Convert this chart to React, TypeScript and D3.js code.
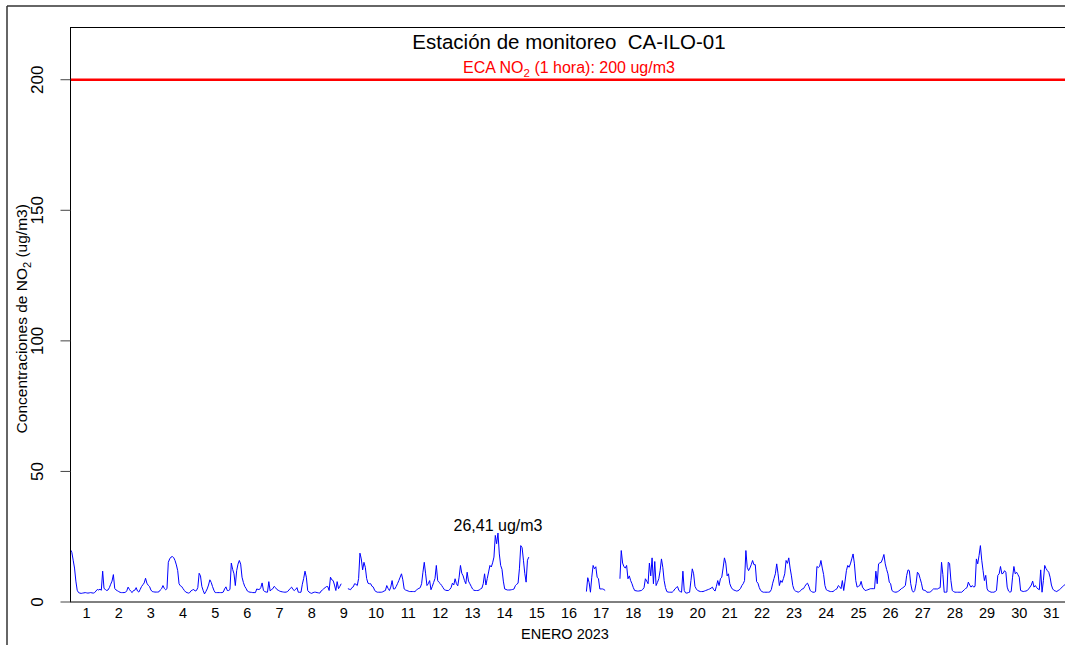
import React, { useEffect, useRef } from 'react';
import * as d3 from 'd3';

// hourly NO2 (ug/m3), one array per day of January 2023, null = no data
const d01 = [20, 19, 16, 13, 8, 4.5, 3.6, 3.4, 3.3, 3.4, 3.5, 3.6, 3.5, 3.4, 3.5, 3.6, 3.5, 3.4, 3.6, 4.2, 4.8, 4.6, 4.9, 4.5];
const d02 = [11.8, 5.2, 4.8, 4.4, 4.6, 5.5, 6.8, 8, 10.5, 5.2, 4.6, 4.3, 4, 3.7, 3.6, 3.6, 3.6, 3.7, 4.3, 5.7, 4.8, 4.1, 3.6, 4.4];
const d03 = [4.5, 5.5, 4.2, 3.8, 4.8, 5.9, 6.6, 7.3, 9.1, 7.2, 6.4, 5.9, 4.6, 4, 3.9, 3.8, 3.8, 3.8, 3.9, 4.6, 5.1, 6.3, 5.2, 4.7];
const d04 = [5.1, 15.2, 16.5, 17.2, 17.4, 17, 15.9, 14.2, 12, 7, 6.2, 5.9, 5.1, 4.4, 3.8, 3.6, 3.4, 3.6, 4.3, 4.6, 4.8, 4.2, 4.4, 5.5];
const d05 = [11, 10, 6, 4.4, 3.1, 4, 5, 6.5, 8.5, 7.5, 5.9, 4.5, 3.6, 3.6, 3.6, 3.6, 3.6, 3.6, 3.8, 5, 5.8, 4.4, 4.4, 4.8];
const d06 = [14.9, 12.5, 10.8, 6.3, 12, 14.5, 15.9, 14.5, 9.5, 7.5, 6, 5.2, 4.2, 3.9, 3.75, 3.7, 3.6, 3.6, 3.6, 5, 4.8, 4.8, 5.5, 7.3];
const d07 = [4.4, 4.0, 3.8, 3.75, 7.8, 4.2, 4.8, 5.1, 6, 5.5, 4.8, 4.5, 4.2, 4, 3.9, 3.8, 3.75, 3.8, 4, 4.6, 5.2, 5.7, 4.8, 4.4];
const d08 = [4.8, 5.5, 3.75, 3.7, 3.75, 6.8, 9, 11.8, 9.5, 4.4, 3.8, 3.5, 3.3, 3.6, 3.75, 3.75, 3.6, 3.5, 3.4, 4.2, 4.6, 5.1, 5.5, 5.9];
const d09 = [5.9, 4.4, 9.5, 8.5, 8.2, 6.5, 4.4, 7.8, 5.1, 6, 7, null, null, null, null, 5.1, 4.9, 4.7, 5.5, 5.8, 7, 6.8, 6.3, 9];
const d10 = [18.7, 16.5, 12.3, 15.2, 13.3, 9, 7.2, 7, 7, 6, 5.7, 4.4, 4, 3.75, 3.75, 3.75, 3.75, 3.9, 4.2, 4.4, 6.3, 5.2, 4.4, 5.7];
const d11 = [8.2, 5, 5, 5.9, 7, 8.2, 9.5, 10.8, 8.5, 5, 4.6, 4.4, 4.2, 4, 4, 4, 4, 4, 4.4, 5, 5.2, 5.5, 7, 11.4];
const d12 = [15.2, 10.8, 6.3, 7, 8.2, 4.7, 6, 7.5, 9, 14, 8.2, 7.5, 7, 6.3, 5.5, 4.7, 4.5, 4.4, 4.4, 4.8, 5.5, 7.2, 6.5, 8.9];
const d13 = [7, 6.2, 9.5, 14, 11, 10, 8.2, 7, 11.4, 8, 7, 6, 5, 4.5, 4.4, 4.4, 4.4, 4.6, 5, 5.3, 7, 10.8, 6.5, 9];
const d14 = [11.5, 14, 13.4, 15, 17.2, 25.5, 22.3, 26.41, 18.4, 14, 12.5, 8, 5, 4.8, 4.6, 4.6, 4.6, 4.7, 4.8, 5, 6.3, 6.8, 7.2, 12.7];
const d15 = [21.6, 20.8, 16, 11, 7.6, 16, 17.2, null, null, null, null, null, null, null, null, null, null, null, null, null, null, null, null, null];
const d16 = [null, null, null, null, null, null, null, null, null, null, null, null, null, null, null, null, null, null, null, null, null, null, null, null];
const d17 = [null, 4, 9.3, 7.5, 3.75, 9.5, 14, 12.7, 13.5, 9.5, 8.9, 5, 5, 5, 4.8, 4.4, null, null, null, null, null, null, null, null];
const d18 = [null, null, 8.9, 19.7, 14.9, 13.5, 13, 14, 8.9, 10, 8.2, 7, 5.5, 4.4, 4.3, 4.2, 4.2, 4.3, 4.4, 4.8, 5.5, 8.9, 8, 7];
const d19 = [14.9, 10, 16.9, 7, 15.5, 6.3, 7.5, 8.9, 12, 16.5, 13.3, 8.2, 5.5, 4, 3.8, 3.75, 3.75, 3.75, 4.2, 5, 5.5, 5.9, 4.4, 4];
const d20 = [3.75, 11.8, 4.4, 3.5, 3.4, 3.6, 3.75, 8.2, 12.7, 10.8, 6, 5, 4.4, 4.2, 4, 4, 4, 4.2, 4.4, 4.6, 4.8, 5, 5.3, 5.7];
const d21 = [4.7, 4.2, 6, 8.2, 6.3, 8.9, 9.5, 13, 16.9, 14.9, 10, 10.8, 7, 5.7, 4.9, 4.6, 4.4, 4.2, 4.3, 4.6, 5.2, 6.3, 7, 8.2];
const d22 = [19.7, 13.3, 12, 13, 14.3, 15.9, 14.3, 14.3, 7.8, 7.2, 5.5, 4.4, 4, 3.75, 3.75, 3.75, 3.75, 3.75, 3.9, 4.8, 7.2, 9, 10.8, 14.6];
const d23 = [10.8, 6.3, 8.2, 7.5, 9, 10.8, 15.9, 14.8, 16.9, 13, 10, 6.3, 4.7, 4.2, 4, 3.75, 4, 4.4, 5, 5.1, 6, 6.8, 7.2, 6];
const d24 = [4.4, 4, 3.75, 3.75, 4, 13.6, 13.2, 13.6, 15.9, 13, 10.5, 6.3, 4.7, 4.4, 4.2, 4, 4, 4, 4.4, 4.8, 5.1, 6.3, 5.8, 5.1];
const d25 = [8.2, 4.4, 8, 12, 14, 13.3, 14.6, 16.5, 18.4, 14.6, 8.2, 5.7, 6, 6.3, 7.9, 5.7, 5, 4.4, 4.5, 4.7, 4.9, 5.1, 5.1, 5.1];
const d26 = [5.1, 11.8, 7, 14.6, 15, 15.2, 16.5, 18.2, 14.6, 12.5, 10.8, 7.6, 7, 4.4, 4, 3.8, 3.75, 3.9, 4.2, 4.6, 5.1, 5.4, 5.8, 6.3];
const d27 = [10.2, 12.3, 12, 7, 4.5, 3.75, 4.4, 7, 11.4, 10.8, 9, 7.2, 4.7, 4.5, 4.4, 3.75, 3.75, 3.75, 4, 4.5, 5, 5, 5, 5];
const d28 = [5.3, 5.5, 15.2, 10.5, 3.75, 3.75, 3.8, 15.2, 14.8, 8.2, 4.4, 4, 3.75, 3.75, 3.75, 3.75, 3.75, 3.75, 4.2, 4.7, 5.2, 5.5, 7.6, 6.5];
const d29 = [5.7, 6.3, 5.7, 6, 16.5, 14.6, 17.8, 21.6, 16, 12, 8.2, 10.2, 5, 4.2, 4, 3.75, 3.75, 3.75, 4, 4.4, 10.2, 10.8, 13.6, 10.8];
const d30 = [11, 12, 11.4, 5.7, 4.2, 3.75, 4, 9.5, 13.6, 10.8, 11.4, 10.5, 9.5, 4.4, 4.2, 4, 4.1, 4.2, 4.4, 5, 5.7, 6.5, 8, 5.7];
const d31 = [6.3, 5.5, 5, 4.7, 12.3, 3.75, 8.2, 14, 12.8, 12, 11.4, 9.5, 6.5, 5, 4.4, 4.2, 4, 4.4, 4.7, 5.2, 5.7, 6.2, 6.6, 6.8];

const dayLabels = ['1', '2', '3', '4', '5', '6', '7', '8', '9', '10', '11', '12', '13', '14', '15', '16',
  '17', '18', '19', '20', '21', '22', '23', '24', '25', '26', '27', '28', '29', '30', '31'];
const yTicks = [0, 50, 100, 150, 200];
const ecaLimit = 200;
const peakValue = 26.41;
const peakText = '26,41 ug/m3';
const title = 'Estación de monitoreo  CA-ILO-01';
const xTitle = 'ENERO 2023';

export default function App() {
  const svgRef = useRef<SVGSVGElement>(null);

  useEffect(() => {
    if (!svgRef.current) return;
    const svg = d3.select(svgRef.current);
    svg.selectAll('*').remove();

    const font = '"Liberation Sans", Arial, sans-serif';
    const left = 70.5, right = 1067.5, top = 27.5, bottom = 602;

    const hourly: (number | null)[] = [d01, d02, d03, d04, d05, d06, d07, d08, d09, d10, d11, d12, d13, d14, d15, d16,
      d17, d18, d19, d20, d21, d22, d23, d24, d25, d26, d27, d28, d29, d30, d31].flat();

    const x = d3.scaleLinear().domain([0, hourly.length]).range([left, right]);
    const y = d3.scaleLinear().domain([0, 220]).range([bottom, top]);

    // outer frame
    svg.append('line').attr('x1', 7).attr('x2', 1065).attr('y1', 6).attr('y2', 6)
      .attr('stroke', '#333').attr('stroke-width', 1.5);
    svg.append('line').attr('x1', 7).attr('x2', 7).attr('y1', 6).attr('y2', 645)
      .attr('stroke', '#333').attr('stroke-width', 1.5);

    svg.append('defs').append('clipPath').attr('id', 'plot-clip')
      .append('rect').attr('x', left).attr('y', top).attr('width', right - left).attr('height', bottom - top);

    // ECA limit
    svg.append('line')
      .attr('x1', left).attr('x2', right)
      .attr('y1', y(ecaLimit)).attr('y2', y(ecaLimit))
      .attr('stroke', '#ff0000').attr('stroke-width', 2.5);

    // series
    const line = d3.line<number | null>()
      .defined(d => d != null)
      .x((_, i) => x(i))
      .y(d => y(d as number));

    svg.append('path')
      .datum(hourly)
      .attr('d', line)
      .attr('fill', 'none')
      .attr('stroke', '#0000ff')
      .attr('stroke-width', 1)
      .attr('clip-path', 'url(#plot-clip)');

    // plot box
    svg.append('rect')
      .attr('x', left).attr('y', top)
      .attr('width', right - left).attr('height', bottom - top)
      .attr('fill', 'none').attr('stroke', '#000').attr('stroke-width', 1);

    // y axis
    const yAxis = svg.append('g');
    yAxis.selectAll('line').data(yTicks).enter().append('line')
      .attr('x1', left - 10).attr('x2', left)
      .attr('y1', d => y(d)).attr('y2', d => y(d))
      .attr('stroke', '#444').attr('stroke-width', 1);
    yAxis.selectAll('text').data(yTicks).enter().append('text')
      .attr('transform', d => `translate(43, ${y(d)}) rotate(-90)`)
      .attr('text-anchor', 'middle')
      .style('font-family', font).style('font-size', '17px')
      .text(d => d);

    // x labels at noon of every day
    svg.append('g').selectAll('text').data(dayLabels).enter().append('text')
      .attr('x', (_, i) => x(i * 24 + 12))
      .attr('y', 618)
      .attr('text-anchor', 'middle')
      .style('font-family', font).style('font-size', '14.5px')
      .text(d => d);

    svg.append('text')
      .attr('x', (left + right) / 2 - 4).attr('y', 639)
      .attr('text-anchor', 'middle')
      .style('font-family', font).style('font-size', '14.5px')
      .text(xTitle);

    const ylab = svg.append('text')
      .attr('transform', `translate(27, ${(top + bottom) / 2 + 4}) rotate(-90)`)
      .attr('text-anchor', 'middle')
      .style('font-family', font).style('font-size', '15.5px');
    ylab.append('tspan').text('Concentraciones de NO');
    ylab.append('tspan').attr('dy', 4).style('font-size', '11px').text('2');
    ylab.append('tspan').attr('dy', -4).text(' (ug/m3)');

    // title and limit label
    svg.append('text')
      .attr('x', (left + right) / 2).attr('y', 49)
      .attr('text-anchor', 'middle')
      .style('font-family', font).style('font-size', '20.5px')
      .style('white-space', 'pre')
      .text(title);

    const eca = svg.append('text')
      .attr('x', (left + right) / 2).attr('y', 73)
      .attr('text-anchor', 'middle')
      .attr('fill', '#ff0000')
      .style('font-family', font).style('font-size', '16px');
    eca.append('tspan').text('ECA NO');
    eca.append('tspan').attr('dy', 4).style('font-size', '11.5px').text('2');
    eca.append('tspan').attr('dy', -4).text(` (1 hora): ${ecaLimit} ug/m3`);

    // maximum annotation
    const peakIndex = hourly.indexOf(peakValue);
    svg.append('text')
      .attr('x', x(peakIndex)).attr('y', y(peakValue) - 2)
      .attr('text-anchor', 'middle')
      .style('font-family', font).style('font-size', '16px')
      .text(peakText);
  }, []);

  return (
    <svg
      ref={svgRef}
      width={1065}
      height={645}
      style={{ position: 'absolute', left: 0, top: 0, background: '#fff' }}
    />
  );
}
